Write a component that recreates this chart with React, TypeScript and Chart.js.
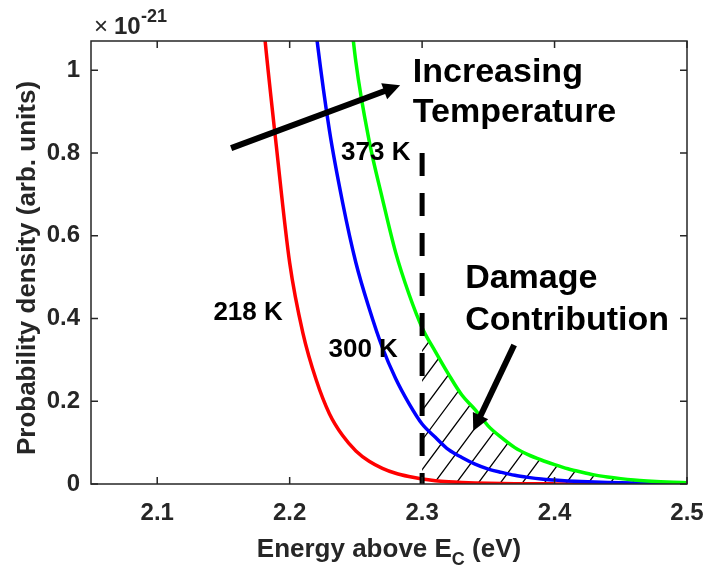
import { useEffect, useRef } from 'react';
import { Chart, registerables } from 'chart.js';

Chart.register(...registerables);

// ---- data ----
const energies = [2.17, 2.18, 2.19, 2.20, 2.21, 2.22, 2.23, 2.24, 2.25, 2.26, 2.27, 2.28, 2.29, 2.30, 2.31, 2.32, 2.33, 2.34, 2.35, 2.36, 2.37, 2.38, 2.39, 2.40, 2.41, 2.42, 2.43, 2.44, 2.45, 2.46, 2.47, 2.48, 2.49, 2.50];
const density218K = [1.50, 1.12, 0.815, 0.535, 0.365, 0.252, 0.170, 0.117, 0.080, 0.055, 0.038, 0.026, 0.018, 0.012, 0.008, 0.0055, 0.0038, 0.0026, 0.0018, 0.0012, 0.0008, 0.0006, 0.0004, 0.0003, 0.0002, 0.00015, 0.0001, 0.00008, 0.00006, 0.00004, 0.00003, 0.00002, 0.00002, 0.00001];
const density300K = [null, null, null, null, 1.38, 1.09, 0.855, 0.68, 0.535, 0.425, 0.33, 0.255, 0.195, 0.145, 0.113, 0.083, 0.064, 0.048, 0.036, 0.028, 0.021, 0.016, 0.012, 0.0095, 0.0075, 0.006, 0.0048, 0.0039, 0.0032, 0.0027, 0.0023, 0.002, 0.0018, 0.0016];
const density373K = [null, null, null, null, null, null, null, 1.32, 1.02, 0.83, 0.69, 0.56, 0.46, 0.378, 0.32, 0.265, 0.215, 0.18, 0.14, 0.112, 0.088, 0.071, 0.058, 0.047, 0.037, 0.029, 0.022, 0.017, 0.013, 0.0098, 0.0074, 0.0055, 0.0042, 0.0032];

const thresholdEnergy = 2.3;
const thresholdTop = 0.8;
const hatchEnd = 2.5;

const xTicks = [2.1, 2.2, 2.3, 2.4, 2.5];
const xTickLabels = ['2.1', '2.2', '2.3', '2.4', '2.5'];
const yTicks = [0, 0.2, 0.4, 0.6, 0.8, 1];
const yTickLabels = ['0', '0.2', '0.4', '0.6', '0.8', '1'];

const xMin = 2.05;
const xMax = 2.5;
const yMin = 0;
const yMax = 1.071;

const curveLabels = [
  { text: '218 K', x: 2.1424, y: 0.396 },
  { text: '300 K', x: 2.2293, y: 0.3075 },
  { text: '373 K', x: 2.2388, y: 0.783 },
];
const bigLabels = [
  { text: 'Increasing', x: 2.293, y: 0.971 },
  { text: 'Temperature', x: 2.293, y: 0.875 },
  { text: 'Damage', x: 2.3325, y: 0.473 },
  { text: 'Contribution', x: 2.3325, y: 0.372 },
];
const arrows = [
  { x1: 2.1558, y1: 0.812, x2: 2.2834, y2: 0.964 },
  { x1: 2.3695, y1: 0.336, x2: 2.3386, y2: 0.128 },
];

const FONT = '"Liberation Sans", Arial, Helvetica, sans-serif';
const AXIS_COLOR = '#262626';

function toPoints(vals: (number | null)[]) {
  const pts: { x: number; y: number }[] = [];
  vals.forEach((v, i) => {
    if (v !== null) pts.push({ x: energies[i], y: v });
  });
  return pts;
}

function drawArrow(ctx: CanvasRenderingContext2D, x1: number, y1: number, x2: number, y2: number, w: number, hl: number, hw: number) {
  const a = Math.atan2(y2 - y1, x2 - x1);
  const bx = x2 - hl * Math.cos(a);
  const by = y2 - hl * Math.sin(a);
  ctx.strokeStyle = '#000';
  ctx.fillStyle = '#000';
  ctx.lineWidth = w;
  ctx.lineCap = 'butt';
  ctx.beginPath();
  ctx.moveTo(x1, y1);
  ctx.lineTo(bx + Math.cos(a) * 2, by + Math.sin(a) * 2);
  ctx.stroke();
  ctx.beginPath();
  ctx.moveTo(x2, y2);
  ctx.lineTo(bx + (hw / 2) * Math.sin(a), by - (hw / 2) * Math.cos(a));
  ctx.lineTo(bx - (hw / 2) * Math.sin(a), by + (hw / 2) * Math.cos(a));
  ctx.closePath();
  ctx.fill();
}

const hatchPlugin = {
  id: 'hatchRegion',
  beforeDatasetsDraw(chart: any) {
    const { ctx, chartArea } = chart;
    const xs = chart.scales.x;
    const ys = chart.scales.y;
    const upper = chart.getDatasetMeta(2).data as any[];
    const lower = chart.getDatasetMeta(0).data as any[];
    const upPts = toPoints(density373K);
    const loPts = toPoints(density218K);
    const ui = upPts.map((p, i) => i).filter((i) => upPts[i].x >= thresholdEnergy - 1e-9 && upPts[i].x <= hatchEnd + 1e-9);
    const li = loPts.map((p, i) => i).filter((i) => loPts[i].x >= thresholdEnergy - 1e-9 && loPts[i].x <= hatchEnd + 1e-9);
    ctx.save();
    ctx.beginPath();
    ctx.rect(chartArea.left, chartArea.top, chartArea.width, chartArea.height);
    ctx.clip();
    ctx.beginPath();
    ui.forEach((idx, k) => {
      const p = upper[idx];
      if (k === 0) ctx.moveTo(p.x, p.y);
      else {
        const q = upper[ui[k - 1]];
        ctx.bezierCurveTo(q.cp2x, q.cp2y, p.cp1x, p.cp1y, p.x, p.y);
      }
    });
    for (let k = li.length - 1; k >= 0; k--) {
      const p = lower[li[k]];
      if (k === li.length - 1) ctx.lineTo(p.x, p.y);
      else {
        const q = lower[li[k + 1]];
        ctx.bezierCurveTo(q.cp1x, q.cp1y, p.cp2x, p.cp2y, p.x, p.y);
      }
    }
    ctx.closePath();
    ctx.clip();
    const x0 = xs.getPixelForValue(thresholdEnergy);
    const x1 = xs.getPixelForValue(hatchEnd);
    const yb = ys.getPixelForValue(0) + 2;
    const yt = chartArea.top;
    const H = yb - yt;
    const slope = 1.35;
    const spacing = 22;
    ctx.strokeStyle = '#000';
    ctx.lineWidth = 1.3;
    ctx.beginPath();
    const start = x0 + 10 - Math.ceil(H / slope / spacing) * spacing;
    for (let bx = start; bx < x1 + spacing; bx += spacing) {
      ctx.moveTo(bx, yb);
      ctx.lineTo(bx + H / slope, yb - H);
    }
    ctx.stroke();
    ctx.restore();
  },
  afterDatasetsDraw(chart: any) {
    const { ctx } = chart;
    const xs = chart.scales.x;
    const ys = chart.scales.y;
    ctx.save();
    ctx.fillStyle = '#000';
    ctx.textAlign = 'left';
    ctx.textBaseline = 'alphabetic';
    ctx.font = `bold 26px ${FONT}`;
    curveLabels.forEach((l) => ctx.fillText(l.text, xs.getPixelForValue(l.x), ys.getPixelForValue(l.y)));
    ctx.font = `bold 34px ${FONT}`;
    bigLabels.forEach((l) => ctx.fillText(l.text, xs.getPixelForValue(l.x), ys.getPixelForValue(l.y)));
    arrows.forEach((a) =>
      drawArrow(ctx, xs.getPixelForValue(a.x1), ys.getPixelForValue(a.y1), xs.getPixelForValue(a.x2), ys.getPixelForValue(a.y2), 6, 17, 17)
    );
    ctx.restore();
  },
  afterDraw(chart: any) {
    const { ctx, chartArea: ca } = chart;
    const xs = chart.scales.x;
    const ys = chart.scales.y;
    ctx.save();
    ctx.strokeStyle = AXIS_COLOR;
    ctx.lineWidth = 1.5;
    ctx.strokeRect(ca.left, ca.top, ca.right - ca.left, ca.bottom - ca.top);
    const tl = 7;
    ctx.beginPath();
    xTicks.forEach((v) => {
      const px = xs.getPixelForValue(v);
      ctx.moveTo(px, ca.bottom);
      ctx.lineTo(px, ca.bottom - tl);
      ctx.moveTo(px, ca.top);
      ctx.lineTo(px, ca.top + tl);
    });
    yTicks.forEach((v) => {
      const py = ys.getPixelForValue(v);
      ctx.moveTo(ca.left, py);
      ctx.lineTo(ca.left + tl, py);
      ctx.moveTo(ca.right, py);
      ctx.lineTo(ca.right - tl, py);
    });
    ctx.stroke();

    ctx.fillStyle = AXIS_COLOR;
    // exponent
    ctx.textBaseline = 'alphabetic';
    ctx.textAlign = 'left';
    ctx.font = `24px ${FONT}`;
    ctx.fillText('\u00d7', ca.left + 3, 34);
    ctx.font = `bold 24px ${FONT}`;
    ctx.fillText('10', ca.left + 23, 34);
    ctx.font = `bold 18px ${FONT}`;
    ctx.fillText('-21', ca.left + 50, 22);

    // y title
    ctx.save();
    ctx.translate(35, 268);
    ctx.rotate(-Math.PI / 2);
    ctx.textAlign = 'center';
    ctx.font = `bold 26px ${FONT}`;
    ctx.fillText('Probability density (arb. units)', 0, 0);
    ctx.restore();

    // x title
    const big = `bold 26px ${FONT}`;
    const small = `bold 18px ${FONT}`;
    const parts = [
      { t: 'Energy above E', f: big, dy: 0 },
      { t: 'C', f: small, dy: 8 },
      { t: ' (eV)', f: big, dy: 0 },
    ];
    let total = 0;
    parts.forEach((p) => {
      ctx.font = p.f;
      total += ctx.measureText(p.t).width;
    });
    let cx = (ca.left + ca.right) / 2 - total / 2;
    const base = 557;
    parts.forEach((p) => {
      ctx.font = p.f;
      ctx.fillText(p.t, cx, base + p.dy);
      cx += ctx.measureText(p.t).width;
    });
    ctx.restore();
  },
};

export default function App() {
  const ref = useRef<HTMLCanvasElement | null>(null);
  useEffect(() => {
    document.body.style.margin = '0';
    const canvas = ref.current;
    if (!canvas) return;
    const chart = new Chart(canvas, {
      type: 'line',
      data: {
        datasets: [
          { label: '218 K', data: toPoints(density218K), borderColor: '#ff0000', borderWidth: 3.5, pointRadius: 0, cubicInterpolationMode: 'monotone', fill: false, order: 3 },
          { label: '300 K', data: toPoints(density300K), borderColor: '#0000ff', borderWidth: 3.5, pointRadius: 0, cubicInterpolationMode: 'monotone', fill: false, order: 2 },
          { label: '373 K', data: toPoints(density373K), borderColor: '#00ff00', borderWidth: 3.5, pointRadius: 0, cubicInterpolationMode: 'monotone', fill: false, order: 1 },
          {
            label: 'threshold',
            data: [
              { x: thresholdEnergy, y: thresholdTop },
              { x: thresholdEnergy, y: 0 },
            ],
            borderColor: '#000',
            borderWidth: 5,
            borderDash: [23, 17],
            pointRadius: 0,
            fill: false,
            order: 0,
          },
        ] as any,
      },
      options: {
        animation: false,
        responsive: false,
        maintainAspectRatio: false,
        events: [],
        layout: { padding: { left: 0, top: 41, right: 18, bottom: 0 } },
        plugins: { legend: { display: false }, tooltip: { enabled: false }, title: { display: false } },
        scales: {
          x: {
            type: 'linear',
            min: xMin,
            max: xMax,
            grid: { display: false, drawTicks: false },
            border: { display: false },
            afterBuildTicks: (s: any) => {
              s.ticks = xTicks.map((v) => ({ value: v }));
            },
            afterFit: (s: any) => {
              s.height = 85;
              s.paddingLeft = 0;
              s.paddingRight = 0;
            },
            ticks: {
              padding: 15,
              color: AXIS_COLOR,
              font: { family: FONT, size: 24, weight: 'bold' },
              maxRotation: 0,
              autoSkip: false,
              callback: (v: any) => {
                const i = xTicks.findIndex((t) => Math.abs(t - v) < 1e-6);
                return i >= 0 ? xTickLabels[i] : '';
              },
            },
          },
          y: {
            type: 'linear',
            min: yMin,
            max: yMax,
            grid: { display: false, drawTicks: false },
            border: { display: false },
            afterBuildTicks: (s: any) => {
              s.ticks = yTicks.map((v) => ({ value: v }));
            },
            afterFit: (s: any) => {
              s.width = 91;
              s.paddingTop = 0;
              s.paddingBottom = 0;
            },
            ticks: {
              padding: 11,
              color: AXIS_COLOR,
              font: { family: FONT, size: 24, weight: 'bold' },
              autoSkip: false,
              callback: (v: any) => {
                const i = yTicks.findIndex((t) => Math.abs(t - v) < 1e-6);
                return i >= 0 ? yTickLabels[i] : '';
              },
            },
          },
        },
      } as any,
      plugins: [hatchPlugin],
    });
    return () => chart.destroy();
  }, []);
  return <canvas ref={ref} width={705} height={569} style={{ display: 'block', width: 705, height: 569 }} />;
}
